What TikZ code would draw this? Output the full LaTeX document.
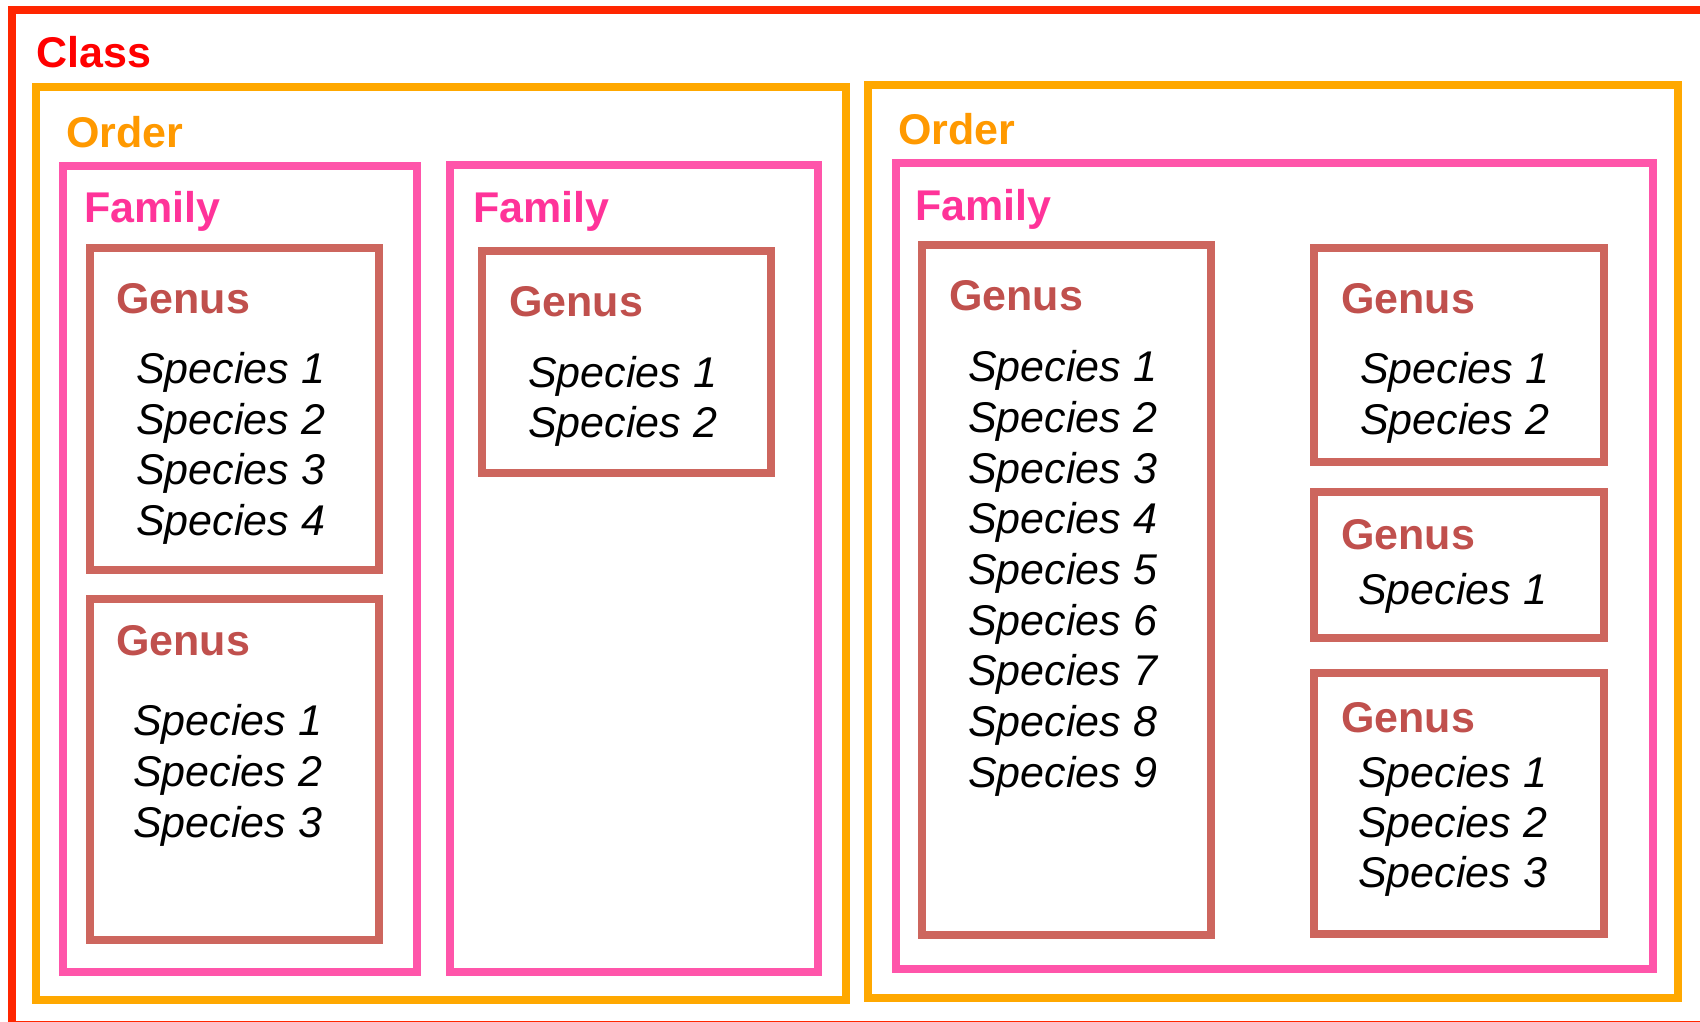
\documentclass[tikz,border=0pt]{standalone}
\usepackage{fontspec}
\setmainfont{Liberation Sans}
\definecolor{classline}{RGB}{255,38,0}
\definecolor{classtxt}{RGB}{255,0,0}
\definecolor{orderline}{RGB}{255,168,0}
\definecolor{ordertxt}{RGB}{255,153,0}
\definecolor{famline}{RGB}{255,85,170}
\definecolor{famtxt}{RGB}{255,51,153}
\definecolor{genline}{RGB}{205,102,94}
\definecolor{gentxt}{RGB}{192,80,77}
\begin{document}
\begin{tikzpicture}[x=1pt,y=-1pt,
  box/.style={line width=8pt},
  lbl/.style={anchor=base west,inner sep=0pt,font=\fontsize{43}{43}\selectfont\bfseries},
  sp/.style={anchor=base west,inner sep=0pt,font=\fontsize{43}{43}\selectfont\itshape,text=black}]
\useasboundingbox (0,0) rectangle (1700,1021);
\clip (0,0) rectangle (1700,1021);
% class
\draw[box,classline] (12,9.5) rectangle (1720,1024.5);
\node[lbl,text=classtxt] (classlbl) at (36,67) {Class};
% orders
\draw[box,orderline] (36,87) rectangle (845.5,1000);
\draw[box,orderline] (868,85) rectangle (1678,998);
\node[lbl,text=ordertxt] (order1) at (66,147) {Order};
\node[lbl,text=ordertxt] (order2) at (898,144) {Order};
% families
\draw[box,famline] (63,165.5) rectangle (417,972);
\draw[box,famline] (450,165) rectangle (818,972);
\draw[box,famline] (895.5,162.5) rectangle (1653,969);
\node[lbl,text=famtxt] (fam1) at (84,222) {Family};
\node[lbl,text=famtxt] (fam2) at (473,222) {Family};
\node[lbl,text=famtxt] (fam3) at (915,220) {Family};
% genera
\draw[box,genline] (90,248) rectangle (379,570);
\draw[box,genline] (90,599) rectangle (379,940);
\draw[box,genline] (482,251) rectangle (771,473);
\draw[box,genline] (922,245) rectangle (1211,935);
\draw[box,genline] (1314,248) rectangle (1604,462);
\draw[box,genline] (1314,492) rectangle (1604,638);
\draw[box,genline] (1314,673) rectangle (1604,934);
\node[lbl,text=gentxt] (gen1) at (116,313) {Genus};
\node[lbl,text=gentxt] (gen2) at (116,655) {Genus};
\node[lbl,text=gentxt] (gen3) at (509,316) {Genus};
\node[lbl,text=gentxt] (gen4) at (949,310) {Genus};
\node[lbl,text=gentxt] (gen5) at (1341,313) {Genus};
\node[lbl,text=gentxt] (gen6) at (1341,549) {Genus};
\node[lbl,text=gentxt] (gen7) at (1341,732) {Genus};
% species
\foreach \i/\y in {1/383,2/434,3/484,4/535}
  \node[sp] (g1s\i) at (136,\y) {Species \i};
\foreach \i/\y in {1/735,2/786,3/837}
  \node[sp] (g2s\i) at (133,\y) {Species \i};
\foreach \i/\y in {1/387,2/437}
  \node[sp] (g3s\i) at (528,\y) {Species \i};
\foreach \i/\y in {1/381,2/432,3/483,4/533,5/584,6/635,7/685,8/736,9/787}
  \node[sp] (g4s\i) at (968,\y) {Species \i};
\foreach \i/\y in {1/383,2/434}
  \node[sp] (g5s\i) at (1360,\y) {Species \i};
\node[sp] (g6s1) at (1358,604) {Species 1};
\foreach \i/\y in {1/787,2/837,3/887}
  \node[sp] (g7s\i) at (1358,\y) {Species \i};
\end{tikzpicture}
\end{document}
